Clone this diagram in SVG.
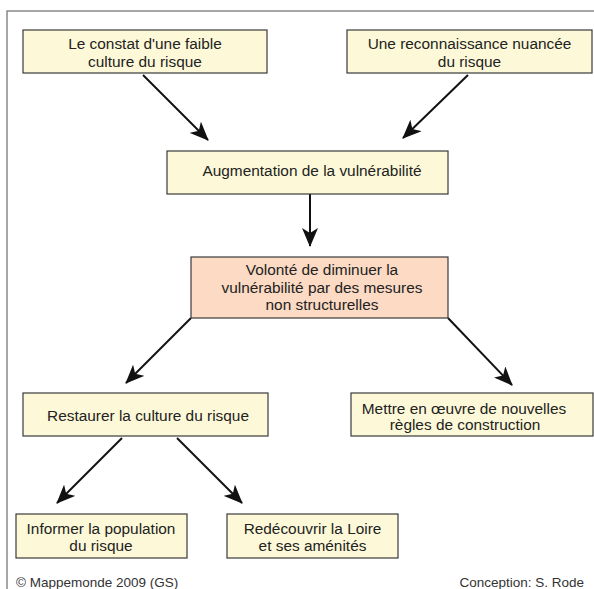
<svg xmlns="http://www.w3.org/2000/svg" width="594" height="589" viewBox="0 0 594 589">
<style>
.box{fill:#fdf9d8;stroke:#3a3a3a;stroke-width:1.2}
.box2{fill:#fcdac3;stroke:#3a3a3a;stroke-width:1.2}
text{font-family:"Liberation Sans",Arial,sans-serif;font-size:15.4px;fill:#222;text-anchor:middle}
.foot{font-size:13.5px;fill:#333}
.c{stroke:#111;stroke-width:2;fill:none;marker-end:url(#ah)}
</style>
<defs>
<marker id="ah" markerUnits="userSpaceOnUse" markerWidth="20" markerHeight="16" refX="18" refY="8" orient="auto" viewBox="0 0 20 16">
<path d="M0,0 L19,8 L0,16 L5,8 z" fill="#111"/>
</marker>
</defs>
<rect x="7" y="11" width="600" height="600" fill="#fff" stroke="#777" stroke-width="1.3"/>
<g id="connectors">
<line class="c" x1="143" y1="75" x2="208" y2="140"/>
<line class="c" x1="468" y1="75" x2="403" y2="138"/>
<line class="c" x1="310" y1="194" x2="310" y2="246"/>
<line class="c" x1="191" y1="318" x2="126" y2="383"/>
<line class="c" x1="448" y1="318" x2="512" y2="385"/>
<line class="c" x1="122" y1="438" x2="57" y2="503"/>
<line class="c" x1="177" y1="438" x2="242" y2="503"/>
</g>
<g id="n1"><rect class="box" x="23" y="30" width="244" height="43"/><text x="145" y="49">Le constat d'une faible</text><text x="145" y="66.5">culture du risque</text></g>
<g id="n2"><rect class="box" x="347" y="30" width="245" height="43"/><text x="469.5" y="49">Une reconnaissance nuancée</text><text x="469.5" y="66.5">du risque</text></g>
<g id="n3"><rect class="box" x="167" y="151" width="281" height="43"/><text x="312" y="176">Augmentation de la vulnérabilité</text></g>
<g id="n4"><rect class="box2" x="191" y="257" width="257" height="61"/><text x="322" y="275">Volonté de diminuer la</text><text x="322" y="292.5">vulnérabilité par des mesures</text><text x="322" y="310">non structurelles</text></g>
<g id="n5"><rect class="box" x="23" y="393" width="245" height="43"/><text x="148" y="421">Restaurer la culture du risque</text></g>
<g id="n6"><rect class="box" x="351" y="393" width="242" height="43"/><text x="464" y="414">Mettre en œuvre de nouvelles</text><text x="465" y="430">règles de construction</text></g>
<g id="n7"><rect class="box" x="16" y="514" width="171" height="44"/><text x="101" y="534">Informer la population</text><text x="101" y="550.5">du risque</text></g>
<g id="n8"><rect class="box" x="227" y="514" width="171" height="44"/><text x="312.5" y="534">Redécouvrir la Loire</text><text x="312.5" y="550.5">et ses aménités</text></g>
<text class="foot" x="16" y="587" style="text-anchor:start">© Mappemonde 2009 (GS)</text>
<text class="foot" x="584" y="587" style="text-anchor:end">Conception: S. Rode</text>
</svg>
